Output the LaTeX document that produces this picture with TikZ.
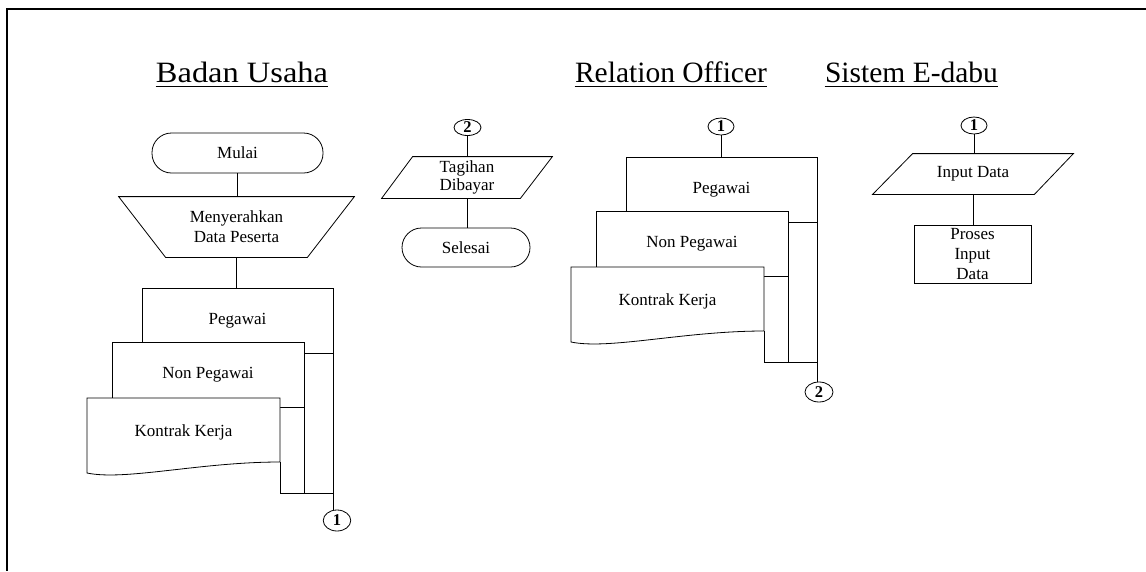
\documentclass[tikz,border=0pt]{standalone}
\usepackage{fontspec}
\usepackage{graphicx}
\setmainfont{Liberation Serif}
\usetikzlibrary{shapes.geometric,calc}
\tikzset{
  docstack/.pic={
    \node[draw, fill=white, minimum width=191pt, minimum height=65pt] (-p) at (150.5,-77.5) {Pegawai};
    \node[draw, fill=white, minimum width=192pt, minimum height=65pt] (-n) at (121,-23.5) {Non Pegawai};
    \draw[fill=white] (0,0) -- (193,0) -- (193,64) .. controls (113,64) and (38,83) .. (0,75) -- cycle;
    \node (-k) at (96.5,34) {Kontrak Kerja};
    \draw (246,-45) -- (246,95) -- (193,95) -- (193,64);
    \draw (217,9) -- (217,95);
    \coordinate (-out) at (246,95);
  }
}
\begin{document}
\begin{tikzpicture}[x=1pt,y=-1pt,
  line width=0.8pt,
  every node/.style={inner sep=0pt, font=\fontsize{17}{20}\selectfont, align=center},
  title/.style={font=\fontsize{29.5}{34}\selectfont, anchor=base},
  uline/.style={line width=1.5pt},
  terminal/.style={draw, rounded corners=19.5pt},
  plainbox/.style={draw},
  conn/.style={draw, ellipse, font=\fontsize{16.5}{16.5}\selectfont\bfseries}
]
\useasboundingbox (0,0) rectangle (1146,571);
% frame
\draw[line width=2pt] (1146,9) -- (7,9) -- (7,571);

% titles
\node[title] (t1) at (242,82) {\scalebox{1.1}[1]{Badan Usaha}};
\node[title] (t2) at (671,82) {Relation Officer};
\node[title] (t3) at (911.5,82) {Sistem E-dabu};
\foreach \t in {t1,t2,t3}
  \draw[uline] ([yshift=-4.5pt]\t.base west) -- ([yshift=-4.5pt]\t.base east);

% Badan Usaha column
\node[terminal, minimum width=171pt, minimum height=40pt] (mulai) at (237.5,153) {Mulai};
\node[minimum width=235pt, minimum height=60pt] (trap) at (236.5,227) {Menyerahkan\\Data Peserta};
\draw (trap.north west) -- (trap.north east) -- ([xshift=-47pt]trap.south east) -- ([xshift=47pt]trap.south west) -- cycle;
\pic (g1) at (87,398) {docstack};
\node[conn, minimum width=27.5pt, minimum height=21pt] (cA) at (337,520.5) {1};

% Tagihan column
\node[conn, minimum width=27pt, minimum height=16pt] (cC) at (467.5,127.5) {2};
\node[minimum width=170pt, minimum height=41pt, font=\fontsize{17}{18}\selectfont] (tag) at (467,177.5) {Tagihan\\Dibayar};
\draw ([xshift=31pt]tag.north west) -- (tag.north east) -- ([xshift=-32pt]tag.south east) -- (tag.south west) -- cycle;
\node[terminal, minimum width=128pt, minimum height=39pt] (sel) at (466,247.5) {Selesai};

% Relation Officer column
\node[conn, minimum width=26pt, minimum height=17pt] (cD) at (721,126.5) {1};
\pic (g2) at (571,267) {docstack};
\node[conn, minimum width=28pt, minimum height=20pt] (cB) at (819,392) {2};

% Sistem E-dabu column
\node[conn, minimum width=26pt, minimum height=17pt] (cE) at (974,125.5) {1};
\node[minimum width=200pt, minimum height=40pt] (inp) at (973,174) {Input Data};
\draw ([xshift=40pt]inp.north west) -- (inp.north east) -- ([xshift=-39pt]inp.south east) -- (inp.south west) -- cycle;
\node[plainbox, minimum width=117pt, minimum height=58pt] (proses) at (972.5,254) {Proses\\Input\\Data};

% connectors
\draw (mulai.south) -- (mulai.south |- trap.north);
\draw (trap.south) -- (trap.south |- g1-p.north);
\draw (g1-out) -- (g1-out |- cA.north);
\draw (cC.south) -- (cC.south |- tag.north);
\draw (tag.south) -- (tag.south |- sel.north);
\draw (cD.south) -- (cD.south |- g2-p.north);
\draw (g2-out) -- (g2-out |- cB.north);
\draw (cE.south) -- (cE.south |- inp.north);
\draw (inp.south) -- (inp.south |- proses.north);
\end{tikzpicture}
\end{document}
